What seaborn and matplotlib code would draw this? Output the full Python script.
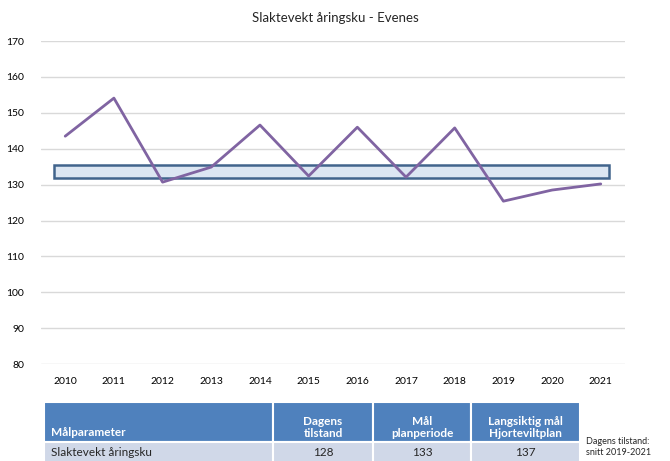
import matplotlib
matplotlib.use("Agg")
import matplotlib.pyplot as plt
import seaborn as sns
import pandas as pd

# data
years = ["2010", "2011", "2012", "2013", "2014", "2015", "2016", "2017", "2018", "2019", "2020", "2021"]
weights = [143.5, 154.1, 130.7, 134.9, 146.6, 132.4, 146.0, 132.1, 145.8, 125.4, 128.5, 130.2]
band_low, band_high = 131.8, 135.5

table_header = ["Målparameter", "Dagens\ntilstand", "Mål\nplanperiode", "Langsiktig mål\nHjorteviltplan"]
table_row = ["Slaktevekt åringsku", "128", "133", "137"]
note = "Dagens tilstand:\nsnitt 2019-2021"

df = pd.DataFrame({"year": years, "weight": weights})

sns.set_theme(style="white")
plt.rcParams["font.family"] = ["Lato", "DejaVu Sans"]

fig = plt.figure(figsize=(6.7, 4.61), dpi=100)
ax = fig.add_axes([0.061, 0.21, 0.872, 0.701])

ax.axhspan(band_low, band_high, xmin=0.022, xmax=0.973, facecolor="#DCE6F2",
           edgecolor="#41648C", linewidth=1.8, zorder=2)
sns.lineplot(data=df, x="year", y="weight", color="#8064A2", linewidth=2, ax=ax, zorder=3, sort=False)

ax.set_ylim(80, 170)
ax.set_yticks(range(80, 171, 10))
ax.set_xlim(-0.5, len(years) - 0.5)
ax.yaxis.grid(True, color="#D9D9D9", linewidth=1)
ax.xaxis.grid(False)
for s in ax.spines.values():
    s.set_visible(False)
ax.tick_params(axis="both", length=0, labelsize=7.5, colors="#000000")
ax.tick_params(axis="y", pad=12)
ax.tick_params(axis="x", pad=9)
ax.set_xlabel("")
ax.set_ylabel("")
fig.text(0.5, 0.962, "Slaktevekt åringsku - Evenes", ha="center", va="center", fontsize=9.5)

# table under the chart
tax = fig.add_axes([0.0, 0.0, 1.0, 1.0])
tax.set_xlim(0, 670)
tax.set_ylim(461, 0)
tax.axis("off")
cols = [44, 273, 373, 471, 580]
head_top, head_bot, row_bot = 402, 442, 464
for i in range(4):
    x0, x1 = cols[i], cols[i + 1]
    tax.add_patch(plt.Rectangle((x0, head_top), x1 - x0, head_bot - head_top,
                                facecolor="#4F81BD", edgecolor="white", linewidth=1.5))
    tax.add_patch(plt.Rectangle((x0, head_bot), x1 - x0, row_bot - head_bot,
                                facecolor="#D0D8E8", edgecolor="white", linewidth=1.5))
    if i == 0:
        tax.text(x0 + 7, head_bot - 4, table_header[i], ha="left", va="bottom",
                 color="white", fontsize=8.5, fontweight="bold")
        tax.text(x0 + 7, head_bot + 10, table_row[i], ha="left", va="center", fontsize=8.5)
    else:
        tax.text((x0 + x1) / 2, head_bot - 3, table_header[i], ha="center", va="bottom",
                 color="white", fontsize=8.5, fontweight="bold", linespacing=1.15)
        tax.text((x0 + x1) / 2, head_bot + 10, table_row[i], ha="center", va="center", fontsize=8.5)
tax.text(586, 447, note, ha="left", va="center", fontsize=6.5, linespacing=1.4)

fig.savefig("out.png", dpi=100)
